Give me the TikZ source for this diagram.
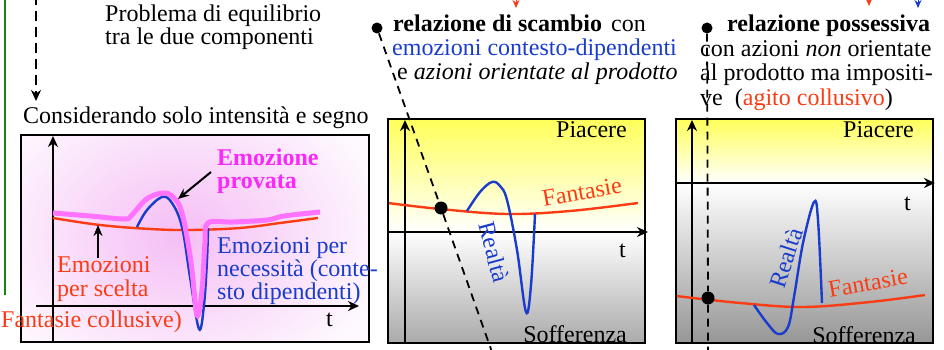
\documentclass[tikz,border=0pt]{standalone}
\usepackage{fontspec}
\setmainfont{Liberation Serif}
\usetikzlibrary{arrows.meta}
\definecolor{myred}{RGB}{250,60,20}
\definecolor{myblue}{RGB}{25,60,205}
\definecolor{mymag}{RGB}{250,40,250}
\definecolor{mycurve}{RGB}{255,115,255}
\definecolor{mygreen}{RGB}{20,135,20}
\definecolor{myyellow}{RGB}{255,255,90}
\definecolor{mygray}{RGB}{170,170,170}
\definecolor{mygraydark}{RGB}{150,150,150}
\definecolor{mypink}{RGB}{245,190,245}
\definecolor{mypale}{RGB}{254,249,254}
\begin{document}
\begin{tikzpicture}[x=1pt,y=-1pt,
  txt/.style={anchor=base west, inner sep=0pt, font=\fontsize{24}{23}\selectfont},
  txte/.style={anchor=base east, inner sep=0pt, font=\fontsize{24}{23}\selectfont},
  txtc/.style={anchor=center, inner sep=0pt, font=\fontsize{24}{23}\selectfont},
  axis/.style={line width=2pt, -{Stealth[length=11pt,width=10pt]}},
  frame/.style={draw=black, line width=2.2pt},
  bigdot/.style={circle, fill=black, inner sep=0pt, minimum size=13pt},
  dline/.style={line width=1.8pt, dash pattern=on 8pt off 6pt},
  curvered/.style={myred, line width=2.4pt},
  curveblue/.style={myblue, line width=2.4pt},
  lblarrow/.style={line width=2pt, -{Stealth[length=11pt,width=9pt]}}
]
\useasboundingbox (0,0) rectangle (944,350);

% ---------- left part ----------
\coordinate (g1) at (5,0);
\coordinate (g2) at (5,295);
\draw[mygreen, line width=2pt] (g1) -- (g2);
\coordinate (d1) at (36,-5);
\coordinate (d2) at (36,101);
\draw[line width=2.4pt, dash pattern=on 10pt off 6pt, -{Stealth[length=11pt,width=10pt]}] (d1) -- (d2);
\node[txt] (prob1) at (105,22) {Problema di equilibrio};
\node[txt] (prob2) at (105,45) {tra le due componenti};
\node[txt] (cons) at (23,124) {Considerando solo intensità e segno};

% box 1
\begin{scope}
  \clip (21,135) rectangle (369,342);
  \fill[mypale] (21,135) rectangle (369,342);
  \shade[inner color=mypink, outer color=mypale] (180,235) ellipse (210 and 160);
\end{scope}
\coordinate (a1b) at (53,342);
\coordinate (a1t) at (53,136);
\coordinate (a1l) at (36,306);
\coordinate (a1r) at (359,306);
\draw[axis] (a1b) -- (a1t);
\draw[axis] (a1l) -- (a1r);
\node[txt] (t1) at (326,326) {t};
\draw[curvered] plot[smooth, tension=0.6] coordinates {(53,218) (100,225) (150,229) (190,230) (240,228) (280,223) (318,218)};
\draw[curveblue] plot[smooth, tension=0.6] coordinates {(137,227) (147,210) (162,197) (172,203) (182,227) (190,277) (199,329) (204,305) (207,260) (208,228)};
\draw[mycurve, line width=5pt] plot[smooth, tension=0.6] coordinates {(53,213) (90,216) (124,219) (131,216) (138,208) (148,198) (163,193) (173,197) (182,213) (191,262) (197,315) (202,290) (205,243) (208,223) (233,222) (267,220) (284,216) (320,212)};
\draw[frame] (21,135) rectangle (369,342);
\node[txt, mymag, font=\fontsize{24}{23}\selectfont\bfseries] (emp1) at (217,165) {Emozione};
\node[txt, mymag, font=\fontsize{24}{23}\selectfont\bfseries] (emp2) at (217,188) {provata};
\coordinate (la1) at (211,172);
\coordinate (la2) at (178,199);
\draw[lblarrow] (la1) -- (la2);
\coordinate (ua1) at (98,258);
\coordinate (ua2) at (98,225);
\draw[lblarrow] (ua1) -- (ua2);
\node[txt, myred] (es1) at (57,272) {Emozioni};
\node[txt, myred] (es2) at (57,296) {per scelta};
\node[txt, myred] (fc) at (1,327) {Fantasie collusive)};
\node[txt, myblue] (en1) at (217,253) {Emozioni per};
\node[txt, myblue] (en2) at (217,276) {necessità (conte-};
\node[txt, myblue] (en3) at (217,299) {sto dipendenti)};

% ---------- box 2 ----------
\shade[top color=myyellow, bottom color=white] (388,119) rectangle (645,232);
\shade[top color=white, bottom color=mygray] (388,232) rectangle (645,343);
\node[txte] (p2) at (627,137) {Piacere};
\node[txte] (s2) at (627,342) {Sofferenza};
\coordinate (a2b) at (405,343);
\coordinate (a2t) at (405,120);
\coordinate (a2l) at (388,232);
\coordinate (a2r) at (648,232);
\draw[axis] (a2b) -- (a2t);
\draw[axis] (a2l) -- (a2r);
\node[txt] (t2) at (619,257) {t};
\draw[curvered] plot[smooth, tension=0.6] coordinates {(388,203) (440,209) (507,214) (570,211) (638,203)};
\draw[curveblue] plot[smooth, tension=0.6] coordinates {(467,211) (480,192) (492,182) (500,186) (507,200) (517,250) (526,312) (531,285) (535,214)};
\node[txtc, myred, rotate=10] (f2) at (582,192) {Fantasie};
\node[txtc, myblue, rotate=-75] (r2) at (494,252) {Realtà};
\draw[frame] (388,119) rectangle (645,343);
\node[bigdot] (dot2) at (441,208) {};
\node[bigdot, minimum size=11pt] (dot2t) at (377,28) {};
\coordinate (dl2e) at (492,352);
\draw[dline] (dot2t) -- (dot2) -- (dl2e);
\node[txt, font=\fontsize{24}{23}\selectfont\bfseries] (rs) at (393,32) {relazione di scambio};
\node[txt] (con2) at (611,32) {con};
\node[txt, myblue] (ecd) at (392,56) {emozioni contesto-dipendenti};
\node[txt] (eaz) at (397,80) {e \textit{azioni orientate al prodotto}};

% ---------- box 3 ----------
\shade[top color=myyellow, bottom color=white] (676,119) rectangle (933,183);
\shade[top color=white, bottom color=mygraydark] (676,183) rectangle (933,343);
\node[txte] (p3) at (914,137) {Piacere};
\node[txte] (s3) at (916,343) {Sofferenza};
\coordinate (a3b) at (692,343);
\coordinate (a3t) at (692,120);
\coordinate (a3l) at (676,183);
\coordinate (a3r) at (935,183);
\draw[axis] (a3b) -- (a3t);
\draw[axis] (a3l) -- (a3r);
\node[txt] (t3) at (904,210) {t};
\draw[curvered] plot[smooth, tension=0.6] coordinates {(676,296) (740,303) (803,307) (870,302) (925,295)};
\draw[curveblue] plot[smooth, tension=0.6] coordinates {(754,305) (767,323) (778,334) (788,327) (794,297) (803,243) (814,202) (818,220) (822,303)};
\node[txtc, myred, rotate=10] (f3) at (868,283) {Fantasie};
\node[txtc, myblue, rotate=72] (r3) at (786,258) {Realtà};
\draw[frame] (676,119) rectangle (933,343);
\node[bigdot] (dot3) at (708,298) {};
\node[bigdot, minimum size=11pt] (dot3t) at (707,28) {};
\coordinate (dl3e) at (708,352);
\node[txt, font=\fontsize{24}{23}\selectfont\bfseries] (rp) at (727,32) {relazione possessiva};
\node[txt] (cp1) at (700,56.5) {con azioni \textit{non} orientate};
\node[txt] (cp2) at (700,81) {al prodotto ma impositi-};
\node[txt] (cp3) at (700,105.5) {ve\ \ (\textcolor{myred}{agito collusivo})};
\draw[dline] (dot3t) -- (dot3) -- (dl3e);

% ---------- small arrow tips at the top ----------
\coordinate (ta1) at (516,-10);
\coordinate (ta2) at (516,8);
\draw[myred, line width=1pt, -{Stealth[length=8pt,width=7pt]}] (ta1) -- (ta2);
\coordinate (tb1) at (869,-10);
\coordinate (tb2) at (869,6);
\draw[myred, line width=1pt, -{Stealth[length=8pt,width=7pt]}] (tb1) -- (tb2);
\coordinate (tc1) at (918,-10);
\coordinate (tc2) at (918,8);
\draw[myblue, line width=1pt, -{Stealth[length=8pt,width=7pt]}] (tc1) -- (tc2);
\end{tikzpicture}
\end{document}
